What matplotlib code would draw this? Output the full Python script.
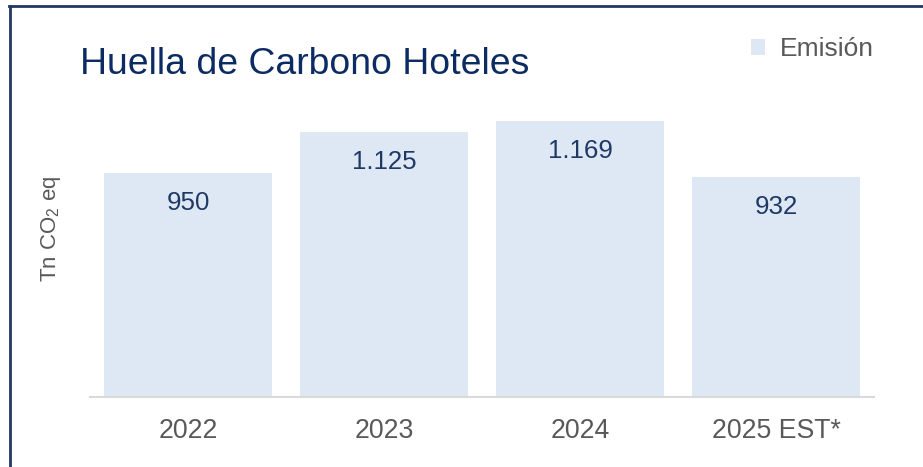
import matplotlib.pyplot as plt
from matplotlib.lines import Line2D
from matplotlib.patches import Patch

plt.rcParams['font.family'] = ['Liberation Sans', 'DejaVu Sans']
plt.rcParams['mathtext.fontset'] = 'custom'
plt.rcParams['mathtext.rm'] = 'Liberation Sans'

# data
years = ["2022", "2023", "2024", "2025 EST*"]
emision = [950, 1125, 1169, 932]

bar_color = "#dde8f4"
navy = "#1f3864"
title_color = "#0d2b63"
grey_txt = "#595959"

fig = plt.figure(figsize=(9.23, 4.67), dpi=100)
ax = fig.add_axes([90 / 923, 70 / 467, 784 / 923, 330 / 467])

x = range(len(years))
ax.bar(x, emision, width=168 / 196, color=bar_color, zorder=2)

for i, v in enumerate(emision):
    lbl = f"{v:,}".replace(",", ".")
    ax.annotate(lbl, (i, v), xytext=(0, -26.6), textcoords="offset points",
                ha="center", va="baseline", fontsize=18.6, color=navy)

ax.set_xlim(-0.5, 3.5)
ax.set_ylim(0, 1400)
ax.set_xticks(list(x))
ax.set_xticklabels(years, fontsize=19.2, color=grey_txt)
ax.tick_params(axis="x", length=0, pad=15)
ax.set_yticks([])
for s in ["top", "right", "left"]:
    ax.spines[s].set_visible(False)
ax.spines["bottom"].set_color("#d9d9d9")
ax.spines["bottom"].set_linewidth(1.5)
ax.spines["bottom"].set_zorder(3)

ax.set_ylabel("Tn CO$\\mathregular{_2}$ eq", fontsize=16, color=grey_txt)
ax.yaxis.set_label_coords(-0.035, 0.51)

# title
fig.text(80 / 923, 1 - 74 / 467, "Huella de Carbono Hoteles", fontsize=26.9,
         color=title_color, ha="left", va="baseline")

# legend
handles = [Patch(facecolor=bar_color, edgecolor="none", label="Emisión")]
leg = fig.legend(handles=handles, loc="center right",
                 bbox_to_anchor=(874 / 923, 1 - 49 / 467),
                 bbox_transform=fig.transFigure, frameon=False,
                 fontsize=19, handlelength=0.55, handleheight=0.55,
                 handletextpad=0.55, borderpad=0, borderaxespad=0)
for t in leg.get_texts():
    t.set_color(grey_txt)

# outer frame (left and top only visible)
fig.add_artist(Line2D([10 / 923, 10 / 923], [0, 1 - 5.5 / 467],
                      transform=fig.transFigure, color=navy, lw=2))
fig.add_artist(Line2D([9 / 923, 1], [1 - 5.5 / 467, 1 - 5.5 / 467],
                      transform=fig.transFigure, color=navy, lw=2))

fig.savefig("out.png", dpi=100)
